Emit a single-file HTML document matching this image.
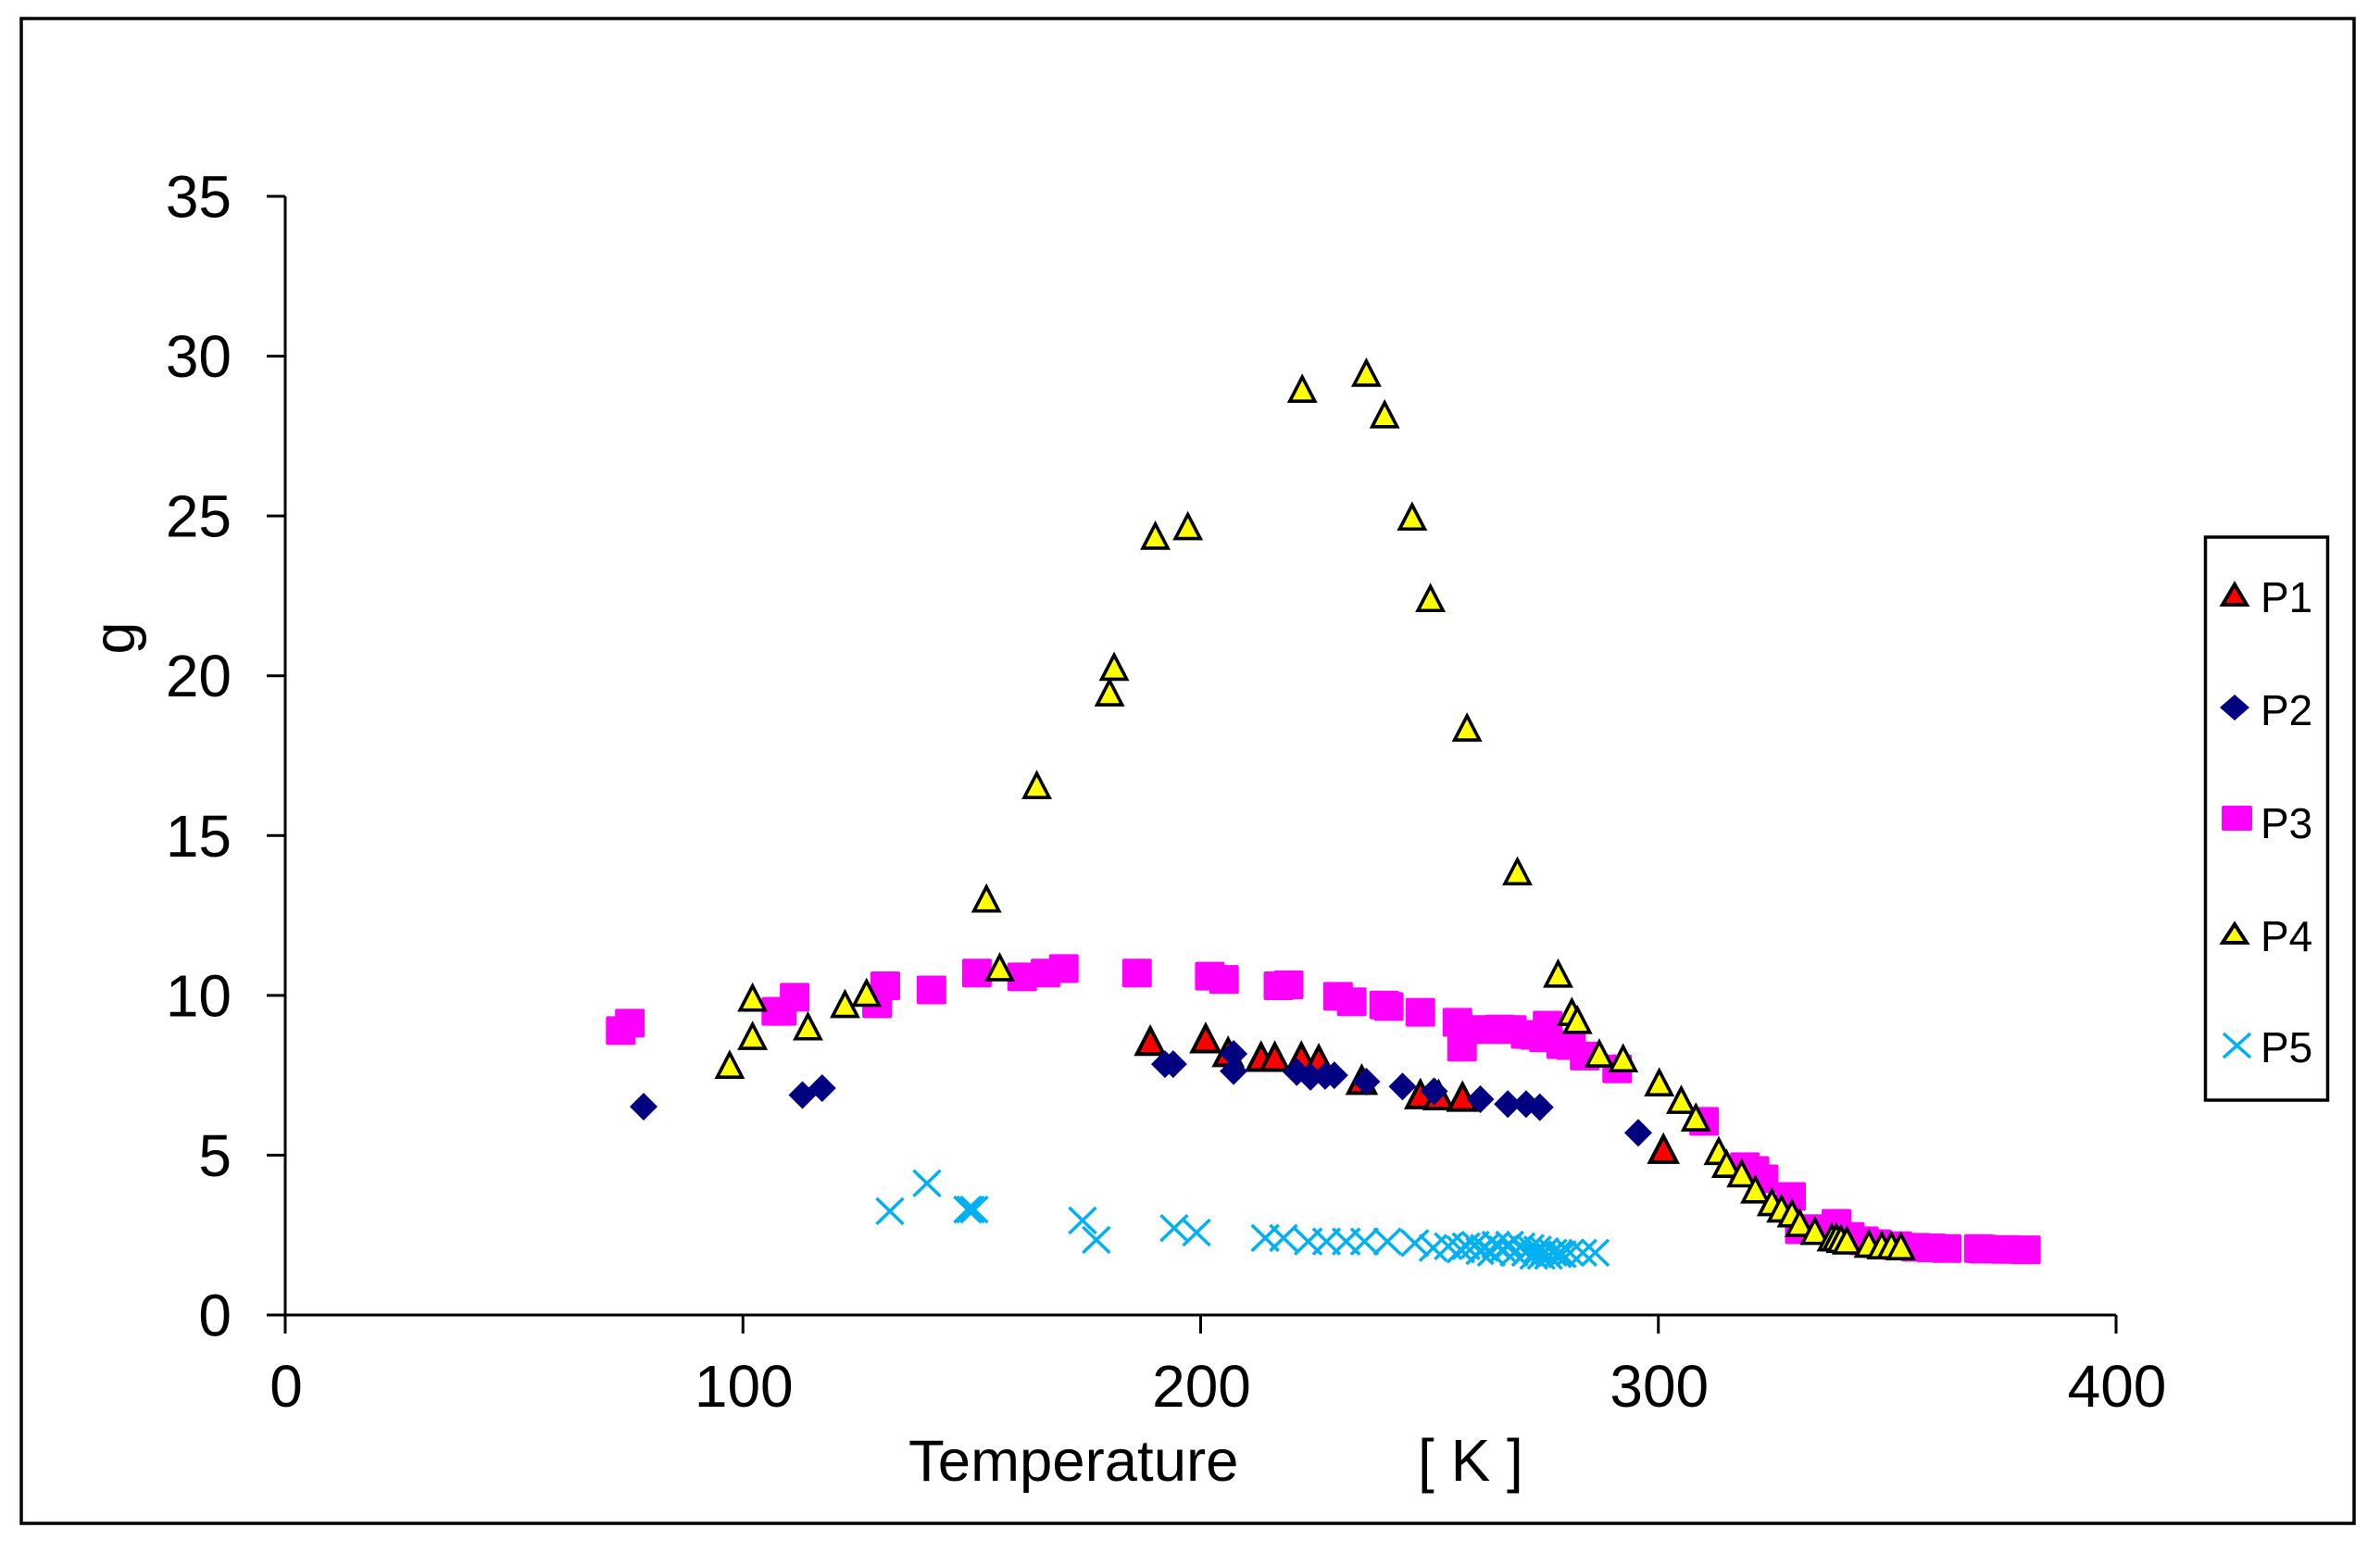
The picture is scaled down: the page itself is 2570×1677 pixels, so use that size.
<!DOCTYPE html>
<html lang="en">
<head>
<meta charset="utf-8">
<title>g versus Temperature</title>
<style>
html,body{margin:0;padding:0;background:#fff;}
body{width:2570px;height:1677px;overflow:hidden;}
svg{display:block;font-family:"Liberation Sans",Arial,sans-serif;}
</style>
</head>
<body>
<svg id="chart" xmlns="http://www.w3.org/2000/svg" width="2570" height="1677" viewBox="0 0 2570 1677">
  <rect x="0" y="0" width="2570" height="1677" fill="#fff"/>
  <rect x="23" y="20" width="2519" height="1625" fill="none" stroke="#000" stroke-width="3.5"/>
  <g id="axes"></g>
  <text transform="translate(145 689) rotate(-90)" text-anchor="middle" font-size="63" fill="#000">g</text>
  <text x="981" y="1599" font-size="63.5" fill="#000">Temperature</text>
  <text x="1531" y="1599" font-size="64" fill="#000" xml:space="preserve">[ K ]</text>
  <g id="marks"></g>
  <g>
    <rect x="2381.5" y="580" width="132" height="608" fill="#fff" stroke="#000" stroke-width="3.5"/>
    <g>
      <path d="M2413 631 L2426 653 L2400 653 Z" fill="#f00" stroke="#000" stroke-width="4"/>
      <text x="2441" y="661" font-size="46" fill="#000">P1</text>
    </g>
    <g>
      <path d="M2413 750 L2429 764 L2413 778 L2397 764 Z" fill="#000080"/>
      <text x="2441" y="783" font-size="46" fill="#000">P2</text>
    </g>
    <g>
      <rect x="2399" y="870" width="33" height="27" rx="2" fill="#f0f"/>
      <text x="2441" y="905" font-size="46" fill="#000">P3</text>
    </g>
    <g>
      <path d="M2413 998 L2426 1018 L2400 1018 Z" fill="#ff0" stroke="#000" stroke-width="4"/>
      <text x="2441" y="1027" font-size="46" fill="#000">P4</text>
    </g>
    <g>
      <path d="M2401 1116 L2430 1142 M2430 1116 L2401 1142" fill="none" stroke="#00b0f0" stroke-width="3.5"/>
      <text x="2441" y="1147" font-size="46" fill="#000">P5</text>
    </g>
  </g>
</svg>
<script>
const xTickLabels = [0, 100, 200, 300, 400];
const yTickLabels = [0, 5, 10, 15, 20, 25, 30, 35];

const p1T = [189, 201.1, 206, 213.2, 216.2, 222, 225.8, 235.2, 248, 252, 257.2, 301.1];
const p1G = [8.6, 8.68, 8.25, 8.1, 8.1, 8.1, 8.02, 7.38, 6.93, 6.9, 6.85, 5.22];

const p2T = [78.3, 113, 117.3, 192.2, 194, 207.2, 207.2, 221, 224, 227.2, 229.2, 236.2, 244.1, 251, 261.1, 267.1, 271.1, 274.1, 295.6];
const p2G = [6.52, 6.88, 7.1, 7.85, 7.85, 8.17, 7.63, 7.6, 7.45, 7.48, 7.5, 7.3, 7.15, 7, 6.75, 6.6, 6.6, 6.5, 5.7];

const p3T = [73.3, 75.3, 107.3, 108.5, 111.3, 129.3, 131.1, 141.2, 151.1, 161, 166.1, 170.1, 186.1, 202, 205.1, 217, 219.2, 230, 233, 240.1, 241.1, 248, 256.1, 257.1, 262, 265.4, 268, 271, 273, 275, 275.8, 278.8, 280.9, 283.9, 291, 310, 318.9, 321, 323, 329, 330.9, 334, 338.9, 341.8, 344.9, 347.6, 352.2, 356.3, 359.6, 363, 370, 371, 376, 380.3];
const p3G = [8.9, 9.13, 9.5, 9.5, 9.94, 9.74, 10.3, 10.17, 10.7, 10.58, 10.7, 10.84, 10.7, 10.6, 10.5, 10.3, 10.33, 9.97, 9.8, 9.7, 9.65, 9.47, 9.16, 8.38, 8.93, 8.95, 8.93, 8.78, 8.75, 8.67, 9.07, 8.46, 8.43, 8.1, 7.7, 6.06, 4.64, 4.52, 4.26, 3.71, 2.67, 2.7, 2.87, 2.46, 2.32, 2.23, 2.17, 2.12, 2.1, 2.08, 2.08, 2.06, 2.05, 2.04];

const p4T = [97.1, 102.1, 102.1, 114.2, 122.3, 127, 153.2, 156.1, 164.2, 180.1, 181.1, 190.1, 197.2, 222.2, 236.2, 240.2, 246.2, 250.2, 258.2, 269.2, 278.1, 281.1, 282.3, 287.1, 292.3, 300.2, 305, 308.2, 313.2, 314.9, 318.2, 321.2, 324.8, 326.9, 329.2, 330.9, 334.2, 337.9, 338.9, 339.9, 341.2, 346, 348.8, 350.9, 353];
const p4G = [7.85, 9.95, 8.75, 9.05, 9.75, 10.1, 13.05, 10.9, 16.6, 19.5, 20.3, 24.4, 24.7, 29, 29.5, 28.2, 25, 22.45, 18.4, 13.9, 10.7, 9.5, 9.25, 8.2, 8.05, 7.3, 6.75, 6.2, 5.15, 4.75, 4.45, 3.95, 3.55, 3.35, 3.2, 2.9, 2.65, 2.45, 2.45, 2.4, 2.35, 2.25, 2.2, 2.2, 2.17];

const p5T = [132.1, 140.2, 149.1, 149.7, 150.5, 174.2, 177.2, 194.2, 199.1, 214.1, 218.1, 223.5, 227.5, 231.8, 235.8, 240.8, 246.8, 250.8, 254.1, 256.8, 258, 260, 261, 262, 263.5, 264.5, 266, 267.5, 268.5, 270, 271, 272, 272.8, 273.6, 274.4, 275.2, 276, 277, 278, 279, 280.7, 283.5, 286.2];
const p5G = [3.25, 4.12, 3.3, 3.3, 3.3, 2.96, 2.35, 2.72, 2.58, 2.41, 2.41, 2.3, 2.3, 2.3, 2.3, 2.3, 2.25, 2.1, 2.15, 2.05, 2.15, 2.2, 2, 2.1, 1.95, 2.2, 2.05, 2.2, 1.95, 2.15, 1.95, 2.1, 1.85, 2.05, 1.85, 2, 1.85, 1.95, 1.9, 1.9, 1.95, 1.95, 1.95];

const SVG_NS = 'http://www.w3.org/2000/svg';
const xMin = 0, xMax = 400, yMin = 0, yMax = 35;
const plotLeft = 308, plotRight = 2285, plotTop = 212, plotBottom = 1420;
function xScale(v) { return plotLeft + (v - xMin) / (xMax - xMin) * (plotRight - plotLeft); }
function yScale(v) { return plotBottom - (v - yMin) / (yMax - yMin) * (plotBottom - plotTop); }

function make(tag, attrs, parent) {
  const el = document.createElementNS(SVG_NS, tag);
  for (const k in attrs) el.setAttribute(k, attrs[k]);
  parent.appendChild(el);
  return el;
}

const axes = document.getElementById('axes');
const marks = document.getElementById('marks');
const axisStyle = { stroke: '#000', 'stroke-width': 3, fill: 'none' };

const yAxisLine = make('line', Object.assign({ x1: plotLeft, x2: plotLeft, y1: yScale(yMax), y2: plotBottom + 20 }, axisStyle), axes);


const xAxisLine = make('line', Object.assign({ x1: plotLeft - 20, x2: xScale(xMax), y1: plotBottom, y2: plotBottom }, axisStyle), axes);



xTickLabels.forEach(function (v) {
  const tick = make('line', Object.assign({ x1: xScale(v), x2: xScale(v), y1: plotBottom, y2: plotBottom + 20 }, axisStyle), axes);
  
  
  const label = make('text', { x: xScale(v) + 1, y: 1519, 'text-anchor': 'middle', 'font-size': 64, fill: '#000' }, axes);
  label.textContent = String(v);
  
  
});

yTickLabels.forEach(function (v) {
  const tick = make('line', Object.assign({ x1: plotLeft - 20, x2: plotLeft, y1: yScale(v), y2: yScale(v) }, axisStyle), axes);
  
  
  const label = make('text', { x: 250, y: yScale(v) + 22.5, 'text-anchor': 'end', 'font-size': 64, fill: '#000' }, axes);
  label.textContent = String(v);
  
  
});

function triangle(cx, cy, w, h, fill, sw) {
  const top = cy - h / 2 + 1.1, base = cy + h / 2 + 1.1;
  return make('path', {
    d: 'M' + cx + ' ' + top + ' L' + (cx + w / 2) + ' ' + base + ' L' + (cx - w / 2) + ' ' + base + ' Z',
    fill: fill, stroke: '#000', 'stroke-width': sw, 'stroke-miterlimit': 10
  }, marks);
}

p1T.forEach(function (t, i) {
  const el = triangle(xScale(t), yScale(p1G[i]), 29, 28, '#ff0000', 4);
  
  
});

p2T.forEach(function (t, i) {
  const cx = xScale(t), cy = yScale(p2G[i]);
  const el = make('path', {
    d: 'M' + cx + ' ' + (cy - 15) + ' L' + (cx + 15) + ' ' + cy + ' L' + cx + ' ' + (cy + 15) + ' L' + (cx - 15) + ' ' + cy + ' Z',
    fill: '#000080'
  }, marks);
  
  
});

p3T.forEach(function (t, i) {
  const el = make('rect', {
    x: xScale(t) - 16, y: yScale(p3G[i]) - 15.5, width: 32, height: 31, rx: 2, fill: '#ff00ff'
  }, marks);
  
  
});

p4T.forEach(function (t, i) {
  const el = triangle(xScale(t), yScale(p4G[i]), 27, 26, '#ffff00', 3.6);
  
  
});

p5T.forEach(function (t, i) {
  const cx = xScale(t), cy = yScale(p5G[i]);
  const el = make('path', {
    d: 'M' + (cx - 14.5) + ' ' + (cy - 14) + ' L' + (cx + 14.5) + ' ' + (cy + 14) + ' M' + (cx + 14.5) + ' ' + (cy - 14) + ' L' + (cx - 14.5) + ' ' + (cy + 14),
    fill: 'none', stroke: '#00b0f0', 'stroke-width': 3.5
  }, marks);
  
  
});
</script>
</body>
</html>
